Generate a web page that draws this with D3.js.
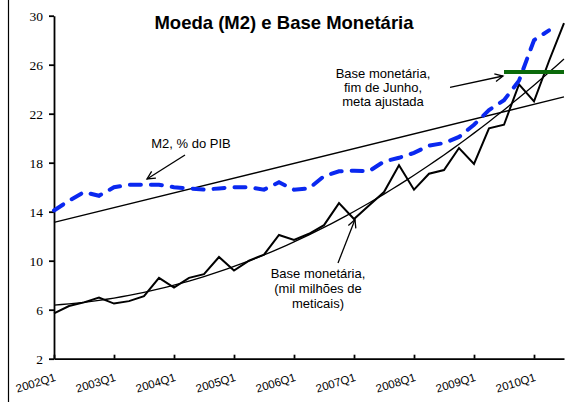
<!DOCTYPE html>
<html>
<head>
<meta charset="utf-8">
<script src="https://cdn.jsdelivr.net/npm/d3@7"></script>
<style>
  body { margin: 0; background: #fff; }
  svg { display: block; }
  .tick line, .domain { stroke: #000; }
</style>
</head>
<body>
<div id="chart"></div>
<script>
'use strict'

// quarters 2002Q1 .. 2010Q3
const years = ['2002', '2003', '2004', '2005', '2006', '2007', '2008', '2009', '2010']
const quarters = years.flatMap(y => ['Q1', 'Q2', 'Q3', 'Q4'].map(q => y + q)).slice(0, 35)
const xTickLabels = ['2002Q1', '2003Q1', '2004Q1', '2005Q1', '2006Q1', '2007Q1', '2008Q1', '2009Q1', '2010Q1']
const yTicks = [2, 6, 10, 14, 18, 22, 26, 30]

// M2, % do PIB (ends 2010Q2)
const m2Pib = [14.1, 14.9, 15.6, 15.3, 16.0, 16.2, 16.2, 16.2, 16.0, 15.9,
  15.8, 15.9, 16.0, 16.0, 15.8, 16.4, 15.8, 15.9, 16.9, 17.3,
  17.35, 17.3, 18.1, 18.4, 18.8, 19.4, 19.6, 20.1, 21.1, 22.3,
  23.1, 24.7, 28.0, 28.8]

// Base monetária, mil milhões de meticais
const baseMonetaria = [5.7, 6.3, 6.6, 7.0, 6.5, 6.7, 7.1, 8.6, 7.8, 8.6,
  8.9, 10.3, 9.2, 10.0, 10.5, 12.1, 11.7, 12.2, 12.9, 14.7,
  13.4, 14.5, 15.6, 17.8, 15.8, 17.1, 17.4, 19.2, 17.9, 20.8,
  21.1, 24.4, 23.0, 26.3, 29.4]

// Base monetária, fim de Junho, meta ajustada
const metaAjustada = quarters.map((q, i) => i >= 30 ? 25.4 : null)

const width = 580
const height = 402

const svg = d3.select('#chart').append('svg')
  .attr('width', width)
  .attr('height', height)

svg.append('defs').append('marker')
  .attr('id', 'arrow')
  .attr('viewBox', '-10 -6 12 12')
  .attr('markerWidth', 12)
  .attr('markerHeight', 12)
  .attr('markerUnits', 'userSpaceOnUse')
  .attr('orient', 'auto')
  .append('path')
  .attr('d', 'M-8,-4L0,0L-8,4')
  .attr('fill', 'none')
  .attr('stroke', '#000')
  .attr('stroke-width', 1.3)

// left frame edge
svg.append('line')
  .attr('x1', 8.5).attr('x2', 8.5)
  .attr('y1', 0).attr('y2', height)
  .attr('stroke', '#000')
  .attr('stroke-width', 1.2)

const x = d3.scaleLinear()
  .domain([0, quarters.length - 1])
  .range([54, 564])

const y = d3.scaleLinear()
  .domain([2, 30])
  .range([358.7, 15.7])

// trend lines
function linearFit(vals) {
  const mt = d3.mean(vals, (v, i) => i)
  const mv = d3.mean(vals)
  const b = d3.sum(vals, (v, i) => (i - mt) * (v - mv)) / d3.sum(vals, (v, i) => (i - mt) * (i - mt))
  return t => mv + b * (t - mt)
}

function quadFit(vals) {
  // normal equations for a + b t + c t^2
  const s = [0, 0, 0, 0, 0]
  const r = [0, 0, 0]
  vals.forEach((v, t) => {
    for (let k = 0; k < 5; k++) s[k] += Math.pow(t, k)
    for (let k = 0; k < 3; k++) r[k] += v * Math.pow(t, k)
  })
  const m = [[s[0], s[1], s[2], r[0]], [s[1], s[2], s[3], r[1]], [s[2], s[3], s[4], r[2]]]
  for (let i = 0; i < 3; i++) {
    for (let j = i + 1; j < 3; j++) {
      const f = m[j][i] / m[i][i]
      for (let k = i; k < 4; k++) m[j][k] -= f * m[i][k]
    }
  }
  const c = [0, 0, 0]
  for (let i = 2; i >= 0; i--) {
    let acc = m[i][3]
    for (let k = i + 1; k < 3; k++) acc -= m[i][k] * c[k]
    c[i] = acc / m[i][i]
  }
  return t => c[0] + c[1] * t + c[2] * t * t
}

const m2Trend = linearFit(m2Pib)
const baseTrend = quadFit(baseMonetaria)
const tSteps = d3.range(0, quarters.length - 1 + 0.01, 0.5)

const lineFn = d3.line()
  .defined(d => d[1] != null)
  .x(d => x(d[0]))
  .y(d => y(d[1]))

svg.append('path')
  .attr('d', lineFn([[0, m2Trend(0)], [quarters.length - 1, m2Trend(quarters.length - 1)]]))
  .attr('fill', 'none')
  .attr('stroke', '#000')
  .attr('stroke-width', 1.3)

svg.append('path')
  .attr('d', lineFn(tSteps.map(t => [t, baseTrend(t)])))
  .attr('fill', 'none')
  .attr('stroke', '#000')
  .attr('stroke-width', 1.3)

// axes
const gY = svg.append('g')
  .attr('transform', `translate(${x.range()[0]},0)`)
  .call(d3.axisLeft(y).tickValues(yTicks).tickSize(5).tickSizeOuter(0).tickPadding(6))
gY.selectAll('line, path').attr('stroke-width', 1.8)
gY.selectAll('text')
  .attr('font-family', '"Liberation Serif", "Times New Roman", serif')
  .attr('font-size', 13.5)
  .attr('fill', '#000')

const gX = svg.append('g')
  .attr('transform', `translate(0,${y.range()[0]})`)
  .call(d3.axisBottom(x)
    .tickValues(xTickLabels.map(l => quarters.indexOf(l)))
    .tickFormat(i => quarters[i])
    .tickSize(-4)
    .tickSizeOuter(0))
gX.selectAll('line, path').attr('stroke-width', 1.8)
gX.selectAll('text')
  .attr('font-family', '"Liberation Sans", Arial, sans-serif')
  .attr('font-size', 11.5)
  .attr('fill', '#000')
  .attr('text-anchor', 'end')
  .attr('y', 0)
  .attr('dy', 0)
  .attr('transform', 'translate(2,22) rotate(-17)')

// data series
svg.append('path')
  .attr('d', lineFn(baseMonetaria.map((v, i) => [i, v])))
  .attr('fill', 'none')
  .attr('stroke', '#000')
  .attr('stroke-width', 2)

svg.append('path')
  .attr('d', lineFn(m2Pib.map((v, i) => [i, v])))
  .attr('fill', 'none')
  .attr('stroke', '#0a28f0')
  .attr('stroke-width', 4)
  .attr('stroke-linecap', 'round')
  .attr('stroke-dasharray', '11,10')

svg.append('path')
  .attr('d', lineFn(metaAjustada.map((v, i) => [i, v])))
  .attr('fill', 'none')
  .attr('stroke', '#0b6a0b')
  .attr('stroke-width', 4)

// title
svg.append('text')
  .attr('x', 284)
  .attr('y', 29)
  .attr('text-anchor', 'middle')
  .attr('font-family', '"Liberation Sans", Arial, sans-serif')
  .attr('font-weight', 'bold')
  .attr('font-size', 18.5)
  .text('Moeda (M2) e Base Monetária')

// annotations
function note(lines, cx, cy, step) {
  const t = svg.append('text')
    .attr('text-anchor', 'middle')
    .attr('font-family', '"Liberation Sans", Arial, sans-serif')
    .attr('font-size', 13)
    .attr('fill', '#000')
  lines.forEach((l, i) => {
    t.append('tspan').attr('x', cx).attr('y', cy + i * step + 4.5).text(l)
  })
}

function arrow(x1, y1, x2, y2) {
  svg.append('line')
    .attr('x1', x1).attr('y1', y1)
    .attr('x2', x2).attr('y2', y2)
    .attr('stroke', '#000')
    .attr('stroke-width', 1.3)
    .attr('marker-end', 'url(#arrow)')
}

note(['M2, % do PIB'], 191, 143, 0)
arrow(185, 155, 147, 179)

note(['Base monetária,', '(mil milhões de', 'meticais)'], 318, 273.3, 15)
arrow(338, 263, 355, 219.5)

note(['Base monetária,', 'fim de Junho,', 'meta ajustada'], 383, 73.3, 14.2)
arrow(450, 87.3, 503, 76)
</script>
</body>
</html>
